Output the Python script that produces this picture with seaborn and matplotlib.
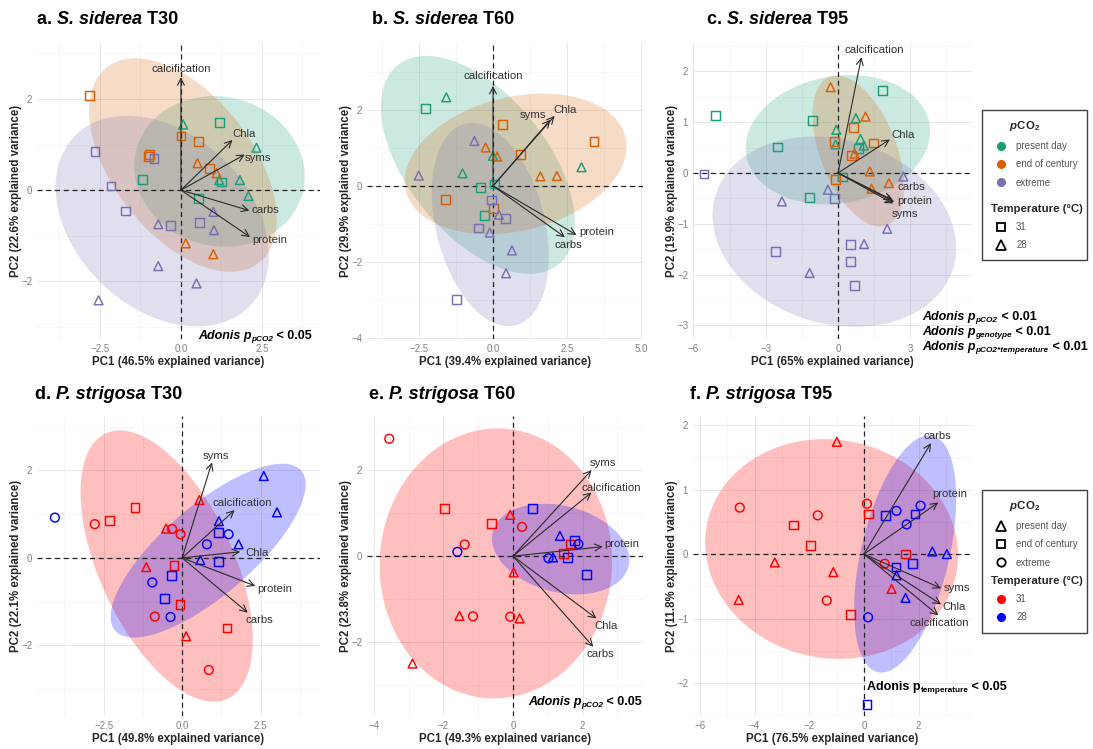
import numpy as np
import pandas as pd
import seaborn as sns
import matplotlib.pyplot as plt
from matplotlib.lines import Line2D
from matplotlib.patches import Rectangle
from matplotlib.ticker import MultipleLocator, AutoMinorLocator, FuncFormatter

# ---------------- data ----------------
# panels a-c: S. siderea, colour = pCO2, shape = temperature
a_pc1 = [0.07, 1.20, 2.33, -1.18, 1.18, 1.25, 1.82, 2.08, 0.53,
         -2.83, 0.0, 0.53, -0.98, -1.0, 0.51, 0.87, 1.10, 0.15, 1.0,
         -2.65, -0.83, -2.16, -1.70, -0.70, -0.32, 0.57, 1.0, 1.02, -0.70, 0.48, -2.54]
a_pc2 = [1.44, 1.48, 0.93, 0.23, 0.22, 0.18, 0.22, -0.13, -0.18,
         2.07, 1.19, 1.06, 0.79, 0.73, 0.59, 0.48, 0.37, -1.17, -1.41,
         0.84, 0.70, 0.09, -0.46, -0.75, -0.78, -0.72, -0.48, -0.88, -1.67, -2.05, -2.42]
a_co2 = ['P'] * 9 + ['E'] * 10 + ['X'] * 12
a_temp = [28, 31, 28, 31, 28, 31, 28, 28, 31,
          31, 31, 31, 31, 31, 28, 31, 28, 28, 28,
          31, 31, 31, 31, 28, 31, 31, 28, 28, 28, 28, 28]
a_vars = ['calcification', 'Chla', 'syms', 'carbs', 'protein']
a_var_pc1 = [0.0, 1.59, 1.97, 2.11, 2.13]
a_var_pc2 = [2.48, 1.10, 0.78, -0.45, -1.03]

b_pc1 = [-1.58, -2.29, -1.03, 0.0, 0.06, -0.41, -0.28, 2.99,
         0.33, 3.41, -0.25, 0.14, 0.94, 1.60, 2.16, -1.60, 0.02,
         -0.63, -2.51, -0.06, 0.20, 0.41, -0.50, -0.11, 0.64, 0.44, -1.24]
b_pc2 = [2.33, 2.03, 0.33, 0.79, 0.05, -0.04, -0.79, 0.49,
         1.62, 1.17, 1.01, 0.77, 0.83, 0.25, 0.26, -0.35, -0.59,
         1.18, 0.27, -0.37, -0.76, -0.85, -1.11, -1.23, -1.70, -2.30, -3.0]
b_co2 = ['P'] * 8 + ['E'] * 9 + ['X'] * 10
b_temp = [28, 31, 28, 28, 31, 31, 31, 28,
          31, 31, 28, 28, 31, 28, 28, 31, 31,
          28, 28, 31, 28, 31, 31, 28, 28, 28, 31]
b_vars = ['calcification', 'syms', 'Chla', 'protein', 'carbs']
b_var_pc1 = [0.0, 1.94, 2.08, 2.82, 2.43]
b_var_pc2 = [2.63, 1.74, 1.84, -1.29, -1.35]

c_pc1 = [-5.10, -1.07, 1.85, 0.74, -0.07, 0.93, -0.10, 1.07, -2.50, 0.86, 0.18, -1.17,
         -0.31, 1.14, 0.65, -0.14, 1.46, 0.69, 0.56, 1.32, -0.11, 2.11, 1.39,
         -5.56, 2.71, -0.42, -2.33, -0.14, 2.04, 0.53, 1.08, 0.53, -2.60, -1.18, 0.69]
c_pc2 = [1.13, 1.03, 1.62, 1.08, 0.85, 0.67, 0.56, 0.54, 0.51, 0.48, -0.08, -0.49,
         1.69, 1.11, 0.90, 0.62, 0.59, 0.38, 0.35, 0.03, -0.13, -0.20, -0.31,
         -0.02, -0.07, -0.33, -0.56, -0.51, -1.10, -1.41, -1.40, -1.74, -1.55, -1.97, -2.22]
c_co2 = ['P'] * 12 + ['E'] * 11 + ['X'] * 12
c_temp = [31, 31, 31, 28, 28, 28, 28, 28, 31, 31, 31, 31,
          28, 28, 31, 31, 31, 28, 31, 28, 31, 28, 28,
          31, 28, 28, 28, 31, 28, 31, 28, 31, 31, 28, 31]
c_vars = ['calcification', 'Chla', 'carbs', 'protein', 'syms']
c_var_pc1 = [0.97, 2.15, 2.25, 2.33, 2.29]
c_var_pc2 = [2.28, 0.66, -0.53, -0.57, -0.60]

# panels d-f: P. strigosa, colour = temperature, shape = pCO2
d_pc1 = [-1.50, -2.30, -2.78, 0.55, -0.51, -0.32, -0.05, -1.14, -0.26, -0.07, -0.87, 0.13, 1.43, 0.85,
         -4.05, 2.60, 3.02, 1.17, 1.17, 1.48, 0.79, 1.80, 0.58, 1.17, -0.95, -0.35, -0.55, -0.37]
d_pc2 = [1.15, 0.86, 0.77, 1.32, 0.67, 0.66, 0.54, -0.21, -0.18, -1.07, -1.34, -1.79, -1.60, -2.56,
         0.92, 1.87, 1.04, 0.84, 0.58, 0.54, 0.31, 0.31, -0.05, -0.09, -0.56, -0.40, -0.93, -1.35]
d_co2 = ['E', 'E', 'X', 'P', 'P', 'X', 'X', 'P', 'E', 'E', 'X', 'P', 'E', 'X',
         'X', 'P', 'P', 'P', 'E', 'X', 'X', 'P', 'P', 'E', 'X', 'E', 'E', 'X']
d_temp = [31] * 14 + [28] * 14
d_vars = ['syms', 'calcification', 'Chla', 'protein', 'carbs']
d_var_pc1 = [0.95, 1.67, 1.85, 2.33, 2.09]
d_var_pc2 = [2.18, 1.09, 0.14, -0.64, -1.25]

e_pc1 = [-3.56, -1.96, -0.62, -0.08, 0.26, -1.39, 1.66, 1.45, 0.02, -1.54, -1.15, -0.08, 0.19, -2.89,
         0.56, -1.60, 1.35, 1.77, 1.88, 1.02, 1.15, 1.57, 2.12]
e_pc2 = [2.73, 1.11, 0.75, 0.96, 0.68, 0.27, 0.28, 0.06, -0.38, -1.39, -1.40, -1.41, -1.45, -2.50,
         1.11, 0.10, 0.47, 0.37, 0.28, -0.05, -0.03, -0.04, -0.42]
e_co2 = ['X', 'E', 'E', 'P', 'X', 'X', 'E', 'E', 'P', 'P', 'X', 'X', 'P', 'P',
         'E', 'X', 'P', 'E', 'X', 'X', 'P', 'E', 'E']
e_temp = [31] * 14 + [28] * 9
e_vars = ['syms', 'calcification', 'protein', 'Chla', 'carbs']
e_var_pc1 = [2.26, 2.26, 2.58, 2.40, 2.31]
e_var_pc2 = [2.00, 1.48, 0.22, -1.45, -2.11]

f_pc1 = [-0.99, -4.54, -1.69, -2.59, 0.11, 0.17, -1.94, -3.26, -1.12, 1.53, 0.76, 1.01, -4.58, -1.36, -0.50,
         0.79, 1.19, 1.87, 2.07, 1.56, 2.50, 3.03, 1.78, 1.17, 1.19, 1.52, 0.15, 0.11]
f_pc2 = [1.74, 0.72, 0.60, 0.45, 0.78, 0.62, 0.13, -0.13, -0.28, 0.0, -0.15, -0.54, -0.71, -0.72, -0.94,
         0.60, 0.67, 0.62, 0.75, 0.46, 0.04, 0.0, -0.15, -0.20, -0.33, -0.68, -0.98, -2.33]
f_co2 = ['P', 'X', 'X', 'E', 'X', 'E', 'E', 'P', 'P', 'E', 'X', 'P', 'P', 'X', 'E',
         'E', 'X', 'E', 'X', 'X', 'P', 'P', 'E', 'E', 'P', 'P', 'X', 'E']
f_temp = [31] * 15 + [28] * 13
f_vars = ['carbs', 'protein', 'syms', 'Chla', 'calcification']
f_var_pc1 = [2.45, 2.72, 2.82, 2.82, 2.72]
f_var_pc2 = [1.72, 0.80, -0.53, -0.78, -0.95]

co2_names = {'P': 'present day', 'E': 'end of century', 'X': 'extreme'}
co2_order = ['present day', 'end of century', 'extreme']
temp_order = ['31', '28']

# ---------------- style ----------------
W, H = 1093, 749
dark2 = {'present day': '#1B9E77', 'end of century': '#D95F02', 'extreme': '#7570B3'}
redblue = {'31': '#FF0000', '28': '#0000FF'}
shape_temp = {'31': 's', '28': '^'}
shape_co2 = {'present day': '^', 'end of century': 's', 'extreme': 'o'}

sns.set_theme(style='white')
plt.rcParams['font.family'] = ['Liberation Sans', 'DejaVu Sans']
plt.rcParams['mathtext.fontset'] = 'custom'
plt.rcParams['mathtext.rm'] = 'Liberation Sans'
plt.rcParams['mathtext.it'] = 'Liberation Sans:italic'
plt.rcParams['mathtext.bf'] = 'Liberation Sans:bold'
try:
    plt.rcParams['mathtext.bfit'] = 'Liberation Sans:italic:bold'
except KeyError:
    pass


def rect(L, T, R, B):
    return [L / W, 1 - B / H, (R - L) / W, (B - T) / H]


def cov_trob(xy, nu=5, maxit=25, tol=0.01):
    # robust multivariate-t covariance (as MASS::cov.trob, used by stat_ellipse)
    n, p = xy.shape
    loc = xy.mean(axis=0)
    w = np.ones(n)
    for _ in range(maxit):
        w0 = w
        X = xy - loc
        _, d, vt = np.linalg.svd(np.sqrt(w / w.sum())[:, None] * X, full_matrices=False)
        wX = X @ vt.T @ np.diag(1 / d)
        Q = (wX ** 2).sum(axis=1)
        w = (nu + p) / (nu + Q)
        loc = (w[:, None] * xy).sum(axis=0) / w.sum()
        if np.all(np.abs(w - w0) < tol):
            break
    sx = np.sqrt(w)[:, None] * X
    return loc, sx.T @ sx / n


def ellipse(xy, level=0.95, seg=80):
    n = len(xy)
    center, cov = cov_trob(xy)
    dfd = n - 1
    q = dfd / 2 * ((1 - level) ** (-2 / dfd) - 1)  # F(2, dfd) quantile
    radius = np.sqrt(2 * q)
    t = np.linspace(0, 2 * np.pi, seg + 1)
    circ = np.column_stack([np.cos(t), np.sin(t)])
    pts = center + radius * circ @ np.linalg.cholesky(cov).T
    return pts[:, 0], pts[:, 1]


minus = FuncFormatter(lambda v, pos: ('%.1f' % v).replace('-', '\u2212'))
minus_int = FuncFormatter(lambda v, pos: ('%d' % round(v)).replace('-', '\u2212'))


def chain(ax, pieces, xy, coords, ha='left', size=13):
    # pieces: (text, style, size_factor, drop_px); laid out left to right
    seq = pieces if ha == 'left' else pieces[::-1]
    first = None
    prev = None
    for s, style, fac, drop in seq:
        kw = dict(fontsize=size * fac, fontweight='bold', fontstyle=style,
                  ha=ha, annotation_clip=False, color='black')
        if prev is None:
            t = ax.annotate(s, xy=xy, xycoords=coords, va='center', **kw)
            first = t
        else:
            t = ax.annotate(s, xy=(1 if ha == 'left' else 0, 0), xycoords=(prev, first),
                            xytext=(0, -drop), textcoords='offset pixels', va='bottom', **kw)
        prev = t


def panel(ax, pc1, pc2, co2, temp, vars_, vpc1, vpc2, by_temp, lab_off,
          xlim, ylim, xstep, ystep, dec, pcx, pcy, title, tx, ty):
    df = pd.DataFrame({'PC1': pc1, 'PC2': pc2,
                       'pCO2': [co2_names[c] for c in co2],
                       'Temp': [str(t) for t in temp]})
    if by_temp:
        hue, style, pal, mk = 'Temp', 'pCO2', redblue, shape_co2
        hue_order, style_order, alpha = temp_order, co2_order, 0.25
    else:
        hue, style, pal, mk = 'pCO2', 'Temp', dark2, shape_temp
        hue_order, style_order, alpha = co2_order, temp_order, 0.22

    # confidence ellipses per group
    for g in hue_order:
        sub = df[df[hue] == g]
        ex, ey = ellipse(sub[['PC1', 'PC2']].to_numpy())
        ax.fill(ex, ey, color=pal[g], alpha=alpha, lw=0, zorder=1)

    ax.axhline(0, color='#222222', ls=(0, (4, 3)), lw=0.9, zorder=2)
    ax.axvline(0, color='#222222', ls=(0, (4, 3)), lw=0.9, zorder=2)

    sns.scatterplot(data=df, x='PC1', y='PC2', hue=hue, style=style, palette=pal,
                    markers=mk, hue_order=hue_order, style_order=style_order,
                    s=40, linewidth=1.05, legend=False, ax=ax, zorder=4)
    pts = ax.collections[-1]
    fc = pts.get_facecolors()
    pts.set_edgecolors(fc)
    pts.set_facecolors('none')

    for name, vx, vy, (dx, dy) in zip(vars_, vpc1, vpc2, lab_off):
        ax.annotate('', xy=(vx, vy), xytext=(0, 0),
                    arrowprops=dict(arrowstyle='->,head_length=0.7,head_width=0.35',
                                    color='#2a2a2a', lw=0.8, shrinkA=0, shrinkB=0,
                                    mutation_scale=7), zorder=5)
        ax.annotate(name, xy=(vx, vy), xytext=(dx, dy), textcoords='offset pixels',
                    ha='center', va='center', fontsize=8.2, color='#333333', zorder=6)

    ax.set_xlim(*xlim)
    ax.set_ylim(*ylim)
    ax.xaxis.set_major_locator(MultipleLocator(xstep))
    ax.yaxis.set_major_locator(MultipleLocator(ystep))
    ax.xaxis.set_minor_locator(AutoMinorLocator(2))
    ax.yaxis.set_minor_locator(AutoMinorLocator(2))
    ax.xaxis.set_major_formatter(minus if dec else minus_int)
    ax.yaxis.set_major_formatter(minus_int)
    ax.set_axisbelow(True)
    ax.grid(which='major', color='#e4e4e4', lw=0.6)
    ax.grid(which='minor', color='#f0f0f0', lw=0.4)
    for s in ax.spines.values():
        s.set_visible(False)
    ax.tick_params(which='major', length=2, width=0.6, color='#9a9a9a',
                   labelsize=7, labelcolor='#808080', pad=1.5)
    ax.tick_params(which='minor', length=0)
    ax.set_xlabel('PC1 (%s%% explained variance)' % pcx, fontsize=8.3,
                  fontweight='bold', labelpad=1.5)
    ax.set_ylabel('PC2 (%s%% explained variance)' % pcy, fontsize=8.3,
                  fontweight='bold', labelpad=-0.5)
    chain(ax, title, (tx, ty), 'axes fraction', size=13)


def title_parts(letter, genus, t):
    return [(letter + '. ', 'normal', 1, 0), (genus, 'italic', 1, 0), (' ' + t, 'normal', 1, 0)]


fig = plt.figure(figsize=(W / 100, H / 100), dpi=100)

ax_a = fig.add_axes(rect(37, 43, 320, 339))
panel(ax_a, a_pc1, a_pc2, a_co2, a_temp, a_vars, a_var_pc1, a_var_pc2, False,
      [(0, 8), (12, 6), (13, -3), (16, 1), (20, -3)],
      (-4.44, 4.29), (-3.27, 3.23), 2.5, 2, True, '46.5', '22.6',
      title_parts('a', 'S. siderea', 'T30'), 0.0, 1.081)

ax_b = fig.add_axes(rect(367, 43, 643, 339))
panel(ax_b, b_pc1, b_pc2, b_co2, b_temp, b_vars, b_var_pc1, b_var_pc2, False,
      [(0, 10), (-17, 5), (11, 6), (20, 3), (3, -8)],
      (-4.26, 5.07), (-4.03, 3.76), 2.5, 2, True, '39.4', '29.9',
      title_parts('b', 'S. siderea', 'T60'), 0.018, 1.081)

ax_c = fig.add_axes(rect(693, 43, 972, 339))
panel(ax_c, c_pc1, c_pc2, c_co2, c_temp, c_vars, c_var_pc1, c_var_pc2, False,
      [(13, 7), (13, 4), (19, 13), (21, 1), (12, -11)],
      (-6.02, 5.56), (-3.27, 2.56), 3, 1, False, '65', '19.9',
      title_parts('c', 'S. siderea', 'T95'), 0.049, 1.078)

ax_d = fig.add_axes(rect(37, 416, 320, 716))
panel(ax_d, d_pc1, d_pc2, d_co2, d_temp, d_vars, d_var_pc1, d_var_pc2, True,
      [(4, 6), (8, 7), (17, -1), (19, -3), (12, -7)],
      (-4.62, 4.39), (-3.61, 3.24), 2.5, 2, True, '49.8', '22.1',
      title_parts('d', 'P. strigosa', 'T30'), -0.007, 1.073)

ax_e = fig.add_axes(rect(367, 416, 643, 716))
panel(ax_e, e_pc1, e_pc2, e_co2, e_temp, e_vars, e_var_pc1, e_var_pc2, True,
      [(11, 7), (20, 5), (19, 3), (10, -8), (7, -7)],
      (-4.20, 3.74), (-3.72, 3.26), 2, 2, False, '49.3', '23.8',
      title_parts('e', 'P. strigosa', 'T60'), 0.008, 1.073)

ax_f = fig.add_axes(rect(693, 416, 972, 716))
panel(ax_f, f_pc1, f_pc2, f_co2, f_temp, f_vars, f_var_pc1, f_var_pc2, True,
      [(6, 7), (11, 8), (16, 0), (13, -3), (1, -8)],
      (-6.25, 3.95), (-2.51, 2.14), 2, 1, False, '76.5', '11.8',
      title_parts('f', 'P. strigosa', 'T95'), -0.011, 1.073)


# ---------------- adonis annotations ----------------
def adonis(ax, x, y, sub, val, ha='left', style='italic'):
    pieces = [('Adonis p', style, 1, 0), (sub, style, 0.66, 1), (' < ' + val, 'normal', 1, 0)]
    chain(ax, pieces, (x, H - y), 'figure pixels', ha=ha, size=9)


adonis(ax_a, 312, 336, 'pCO2', '0.05', ha='right')
adonis(ax_c, 922, 317, 'pCO2', '0.01')
adonis(ax_c, 922, 332, 'genotype', '0.01')
adonis(ax_c, 922, 347, 'pCO2*temperature', '0.01')
adonis(ax_e, 642, 702, 'pCO2', '0.05', ha='right')
adonis(ax_f, 867, 687, 'temperature', '0.05', style='normal')

# ---------------- legends ----------------
co2_title = r'$\quad\quad\mathbfit{p}\mathbf{CO}_\mathbf{2}$'
leg_kw = dict(loc='upper left', frameon=False, alignment='left', fontsize=7,
              labelcolor='#555555', handlelength=2.0, handletextpad=0.6,
              labelspacing=0.85, borderpad=0.2,
              title_fontproperties={'weight': 'bold', 'size': 8.2})


def dot(c):
    return Line2D([], [], ls='none', marker='o', markersize=5.5,
                  markerfacecolor=c, markeredgecolor=c)


def hollow(m):
    return Line2D([], [], ls='none', marker=m, markersize=6 if m != '^' else 7,
                  markerfacecolor='none', markeredgecolor='black', markeredgewidth=1.3)


fig.legend([dot(dark2[k]) for k in co2_order], co2_order, title=co2_title,
           bbox_to_anchor=(984 / W, 1 - 112 / H), **leg_kw)
fig.legend([hollow(shape_temp[k]) for k in temp_order], temp_order,
           title='Temperature (°C)', bbox_to_anchor=(984 / W, 1 - 197 / H), **leg_kw)
fig.add_artist(Rectangle((982 / W, 1 - 260 / H), 105 / W, 150 / H, transform=fig.transFigure,
                         fill=False, ec='#404040', lw=1.0))

fig.legend([hollow(shape_co2[k]) for k in co2_order], co2_order, title=co2_title,
           bbox_to_anchor=(984 / W, 1 - 492 / H), **leg_kw)
fig.legend([dot(redblue[k]) for k in temp_order], temp_order,
           title='Temperature (°C)', bbox_to_anchor=(984 / W, 1 - 569 / H), **leg_kw)
fig.add_artist(Rectangle((982 / W, 1 - 633 / H), 105 / W, 143 / H, transform=fig.transFigure,
                         fill=False, ec='#404040', lw=1.0))

fig.savefig('out.png', dpi=100)
